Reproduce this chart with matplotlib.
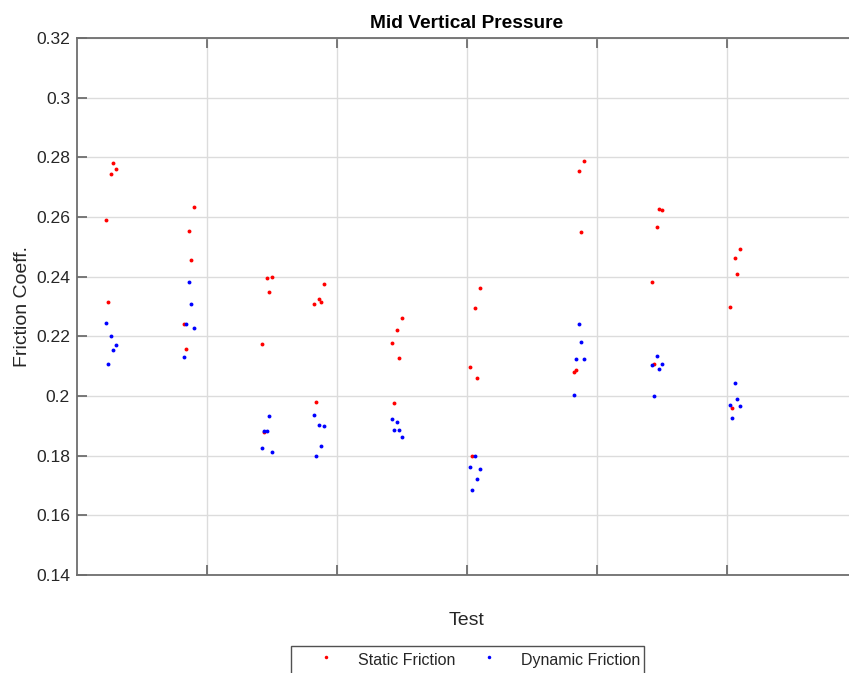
import numpy as np
import matplotlib
matplotlib.use("Agg")
import matplotlib.pyplot as plt

plt.rcParams["font.family"] = ["Liberation Sans", "DejaVu Sans"]

# test group centres on the x axis and the jitter of the 5 trials in each
group_x = [0.26, 0.86, 1.46, 1.86, 2.46, 3.06, 3.86, 4.46, 5.06]
trial_offset = [-0.04, -0.02, 0.0, 0.02, 0.04]

# friction coefficient per group (rows) and trial (columns)
static_friction = [
    [0.2591, 0.2315, 0.2743, 0.2782, 0.2762],
    [0.2240, 0.2159, 0.2552, 0.2456, 0.2635],
    [0.2175, 0.1879, 0.2396, 0.2349, 0.2398],
    [0.2307, 0.1980, 0.2326, 0.2316, 0.2375],
    [0.2179, 0.1975, 0.2220, 0.2128, 0.2261],
    [0.2096, 0.1799, 0.2296, 0.2059, 0.2361],
    [0.2082, 0.2087, 0.2755, 0.2550, 0.2789],
    [0.2381, 0.2108, 0.2565, 0.2626, 0.2622],
    [0.2298, 0.1959, 0.2461, 0.2410, 0.2493],
]
dynamic_friction = [
    [0.2246, 0.2108, 0.2200, 0.2153, 0.2172],
    [0.2130, 0.2241, 0.2381, 0.2309, 0.2227],
    [0.1827, 0.1883, 0.1884, 0.1933, 0.1812],
    [0.1935, 0.1800, 0.1903, 0.1831, 0.1900],
    [0.1923, 0.1887, 0.1912, 0.1887, 0.1863],
    [0.1763, 0.1685, 0.1799, 0.1723, 0.1754],
    [0.2003, 0.2123, 0.2240, 0.2180, 0.2123],
    [0.2105, 0.2001, 0.2135, 0.2092, 0.2108],
    [0.1970, 0.1927, 0.2045, 0.1990, 0.1968],
]
y_ticks = [0.14, 0.16, 0.18, 0.2, 0.22, 0.24, 0.26, 0.28, 0.3, 0.32]
y_tick_labels = ["0.14", "0.16", "0.18", "0.2", "0.22", "0.24", "0.26", "0.28", "0.3", "0.32"]

x = (np.array(group_x)[:, None] + np.array(trial_offset)[None, :]).ravel()

fig = plt.figure(figsize=(8.49, 6.73), dpi=100)
ax = fig.add_axes([77 / 849, 98 / 673, 780 / 849, 537 / 673])

ax.plot(x, np.ravel(static_friction), "o", color="red", ms=2.8, mew=0, label="Static Friction")
ax.plot(x, np.ravel(dynamic_friction), "o", color="blue", ms=2.8, mew=0, label="Dynamic Friction")

ax.set_xlim(0, 6)
ax.set_ylim(0.14, 0.32)
ax.set_xticks([1, 2, 3, 4, 5])
ax.set_xticklabels([])
ax.set_yticks(y_ticks)
ax.set_yticklabels(y_tick_labels)

axis_col = "#6e6e6e"
for s in ["left", "bottom", "top"]:
    ax.spines[s].set_color(axis_col)
    ax.spines[s].set_linewidth(1.3)
ax.spines["right"].set_visible(False)
ax.tick_params(axis="both", direction="in", length=7, width=1.3, color=axis_col,
               labelsize=12.6, labelcolor="#262626", pad=5)
ax.tick_params(axis="x", top=True)
ax.grid(True, color="#dcdcdc", linewidth=1.0)
ax.set_axisbelow(True)

ax.set_title("Mid Vertical Pressure", fontsize=13.8, fontweight="bold", pad=7)
ax.set_xlabel("Test", fontsize=14, color="#262626", labelpad=21.5)
ax.set_ylabel("Friction Coeff.", fontsize=14, color="#262626", labelpad=3.5)

leg = ax.legend(loc="upper center", bbox_to_anchor=(467.5 / 849, 27 / 673),
                bbox_transform=fig.transFigure, ncol=2, fontsize=11.5, frameon=True,
                fancybox=False, handlelength=3.9, handletextpad=0.06, columnspacing=0.19,
                handleheight=1.6, borderpad=0.22, borderaxespad=0, markerscale=0.9)
leg.get_frame().set_edgecolor("#262626")
leg.get_frame().set_linewidth(1.0)
for t in leg.get_texts():
    t.set_color("#262626")

fig.savefig("out.png", dpi=100)
